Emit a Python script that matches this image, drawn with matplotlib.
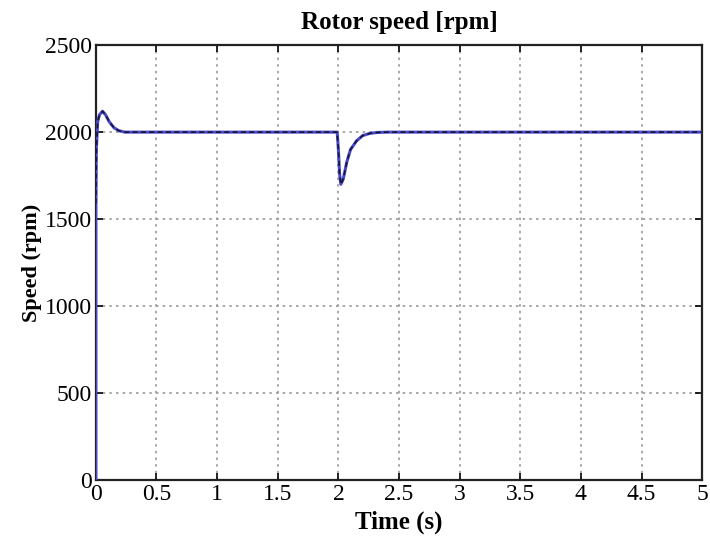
import matplotlib
matplotlib.use("Agg")
import matplotlib.pyplot as plt

# time (s) and rotor speed (rpm)
time_s = [0.0, 0.0, 0.004, 0.015, 0.03, 0.055, 0.08, 0.11, 0.15, 0.19, 0.24,
          1.99, 2.0, 2.01, 2.02, 2.04, 2.07, 2.1, 2.15, 2.2, 2.26, 2.32, 2.4, 5.0]
speed_est = [0, 1560, 1900, 2060, 2100, 2120, 2100, 2060, 2025, 2008, 2000,
             2000, 1900, 1760, 1700, 1730, 1830, 1900, 1950, 1980, 1993, 1998, 2000, 2000]
speed_meas = [1590, 1590, 1900, 2060, 2100, 2120, 2100, 2060, 2025, 2008, 2000,
              2000, 1900, 1760, 1700, 1730, 1830, 1900, 1950, 1980, 1993, 1998, 2000, 2000]

x_ticks = [0, 0.5, 1, 1.5, 2, 2.5, 3, 3.5, 4, 4.5, 5]
x_labels = ["0", "0.5", "1", "1.5", "2", "2.5", "3", "3.5", "4", "4.5", "5"]
y_ticks = [0, 500, 1000, 1500, 2000, 2500]

plt.rcParams["font.family"] = ["Liberation Serif", "DejaVu Serif"]

fig = plt.figure(figsize=(7.1, 5.38), dpi=100)
ax = fig.add_axes([0.135, 0.108, 0.854, 0.808])

ax.plot(time_s, speed_est, color="#4848c8", lw=2.2, zorder=3)
ax.plot(time_s, speed_meas, color="#15153a", lw=1.2, ls=(0, (3, 2)), zorder=4)

ax.set_xlim(0, 5)
ax.set_ylim(0, 2500)
ax.set_xticks(x_ticks)
ax.set_xticklabels(x_labels)
ax.set_yticks(y_ticks)
ax.tick_params(direction="in", top=True, right=True, labelsize=17, length=5, width=1.2, pad=3)
ax.grid(True, color="#9a9a9a", ls=(0, (1.5, 2.5)), lw=1.2)
for s in ax.spines.values():
    s.set_linewidth(1.6)
    s.set_color("#222222")

ax.set_title("Rotor speed [rpm]", fontsize=18, fontweight="bold", pad=12)
ax.set_xlabel("Time (s)", fontsize=18, fontweight="bold", labelpad=4)
ax.set_ylabel("Speed (rpm)", fontsize=16, fontweight="bold", labelpad=2)

fig.savefig("out.png", dpi=100)
